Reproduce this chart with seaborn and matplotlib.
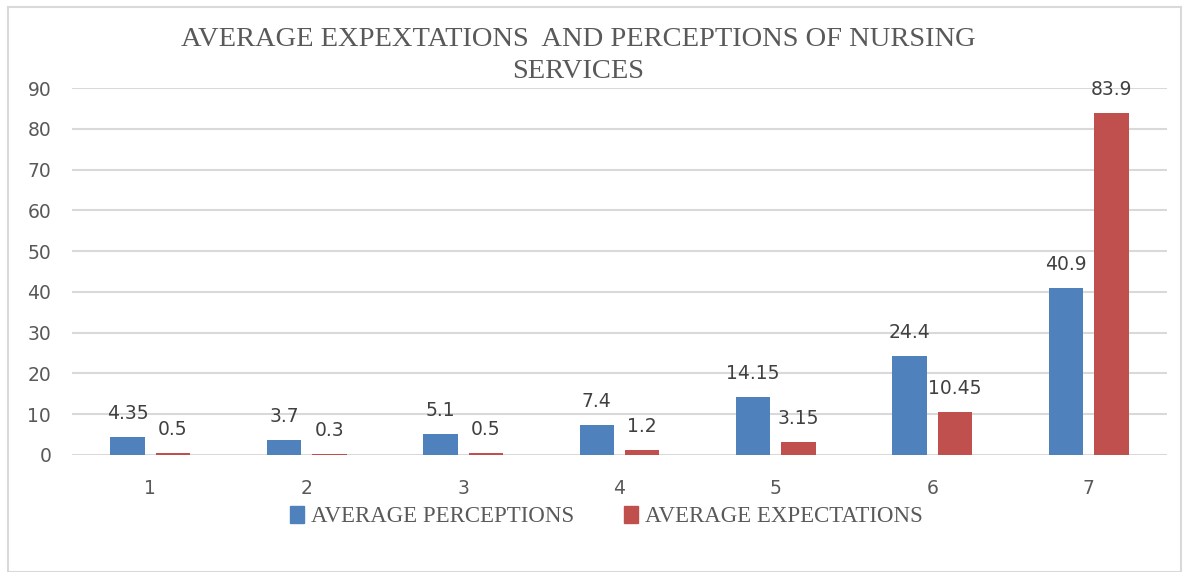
import pandas as pd
import matplotlib.pyplot as plt
import seaborn as sns
from matplotlib.patches import Rectangle

categories = ['1', '2', '3', '4', '5', '6', '7']
perceptions = [4.35, 3.7, 5.1, 7.4, 14.15, 24.4, 40.9]
expectations = [0.5, 0.3, 0.5, 1.2, 3.15, 10.45, 83.9]
series_names = ['AVERAGE PERCEPTIONS', 'AVERAGE EXPECTATIONS']
colors = ['#4F81BD', '#C0504D']

df = pd.DataFrame({
    'cat': categories * 2,
    'value': perceptions + expectations,
    'series': [series_names[0]] * 7 + [series_names[1]] * 7,
})

sns.set_theme(style='white')
plt.rcParams['font.family'] = ['DejaVu Sans']

fig = plt.figure(figsize=(11.89, 5.72), dpi=100)
ax = fig.add_axes([72 / 1189, 1 - 455 / 572, 1095 / 1189, 367 / 572])

sns.barplot(data=df, x='cat', y='value', hue='series', palette=colors,
            width=0.58, gap=0.24, ax=ax, legend=False, saturation=1,
            linewidth=0)

ax.set_ylim(0, 90)
ax.set_xlim(-0.5, 6.5)
ax.set_yticks(range(0, 91, 10))
ax.yaxis.grid(True, color='#D9D9D9', linewidth=1.5)
ax.set_axisbelow(True)
for s in ax.spines.values():
    s.set_visible(False)
ax.tick_params(axis='both', length=0, colors='#595959', labelsize=13.5)
ax.tick_params(axis='x', pad=17)
ax.tick_params(axis='y', pad=15)
ax.set_xlabel('')
ax.set_ylabel('')

for cont in ax.containers:
    ax.bar_label(cont, fmt='%g', padding=10, color='#404040', fontsize=13.5)

# title (serif, like the original Office chart)
fig.text(0.486, 0.903, 'AVERAGE EXPEXTATIONS  AND PERCEPTIONS OF NURSING\nSERVICES',
         ha='center', va='center', family='Liberation Serif', fontsize=20.5,
         color='#595959', linespacing=1.35)

handles = [Rectangle((0, 0), 1, 1, color=c) for c in colors]
fig.legend(handles, series_names, loc='center', bbox_to_anchor=(0.51, 0.097),
           ncol=2, frameon=False, handlelength=0.6, handleheight=0.8,
           handletextpad=0.3, columnspacing=2.2,
           prop={'family': 'Liberation Serif', 'size': 16.5},
           labelcolor='#595959')

fig.patches.append(Rectangle((8 / 1189, 0), 1 - 16 / 1189, 1 - 7 / 572,
                             transform=fig.transFigure, fill=False,
                             edgecolor='#D9D9D9', linewidth=1.5))

plt.savefig('out.png', dpi=100)
plt.close(fig)
